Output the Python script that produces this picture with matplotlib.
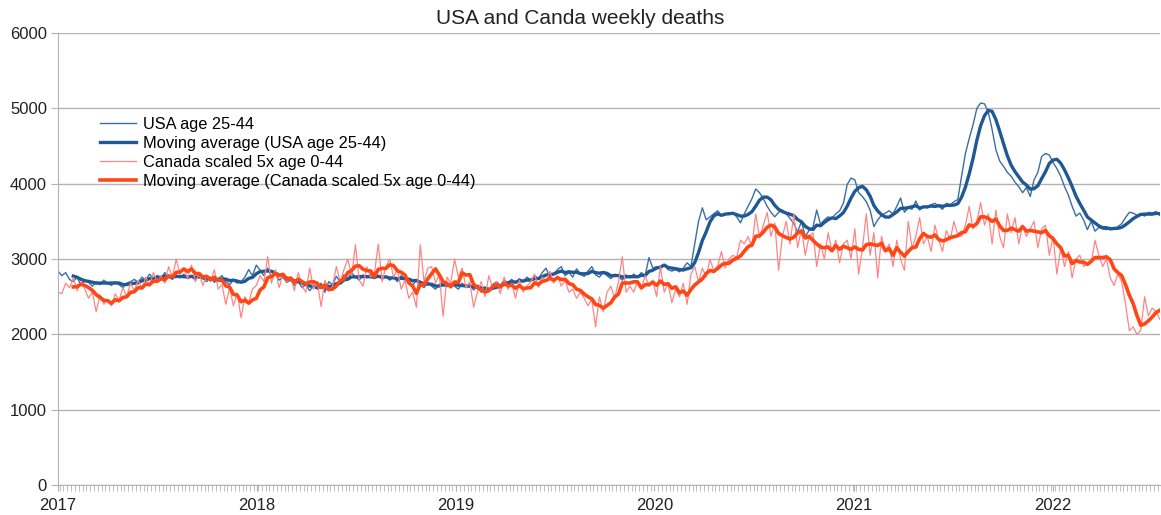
import pandas as pd
import matplotlib.pyplot as plt
import matplotlib.dates as mdates

plt.rcParams['font.family'] = ['Liberation Sans', 'DejaVu Sans']

# Weekly deaths (one list per year, 2022 partial)
usa_2017 = [2840, 2780, 2820, 2730, 2700, 2760, 2650, 2720, 2690, 2640,
            2700, 2660, 2720, 2680, 2650, 2700, 2660, 2620, 2680, 2700,
            2730, 2690, 2760, 2720, 2800, 2740, 2780, 2740, 2820, 2760,
            2730, 2790, 2750, 2800, 2740, 2770, 2720, 2790, 2740, 2700,
            2760, 2690, 2740, 2780, 2700, 2660, 2720, 2680, 2700, 2760,
            2860, 2780]
usa_2018 = [2920, 2850, 2780, 2880, 2760, 2800, 2720, 2760, 2690, 2720,
            2650, 2700, 2620, 2660, 2580, 2640, 2600, 2680, 2560, 2700,
            2660, 2770, 2700, 2790, 2740, 2820, 2760, 2720, 2790, 2750,
            2800, 2740, 2780, 2730, 2770, 2720, 2760, 2700, 2780, 2730,
            2700, 2650, 2720, 2660, 2620, 2690, 2640, 2600, 2660, 2700,
            2640, 2680]
usa_2019 = [2640, 2600, 2680, 2620, 2660, 2590, 2640, 2560, 2620, 2580,
            2660, 2700, 2650, 2720, 2690, 2730, 2680, 2740, 2700, 2760,
            2720, 2780, 2740, 2820, 2880, 2760, 2800, 2860, 2900, 2780,
            2820, 2760, 2870, 2800, 2770, 2840, 2900, 2790, 2760, 2820,
            2780, 2740, 2800, 2770, 2720, 2790, 2750, 2800, 2760, 2820,
            2780, 3020]
usa_2020 = [2880, 2900, 2880, 2920, 2860, 2840, 2860, 2830, 2880, 2950,
            2900, 3200, 3500, 3680, 3520, 3560, 3600, 3640, 3580, 3600,
            3590, 3620, 3560, 3480, 3600, 3700, 3800, 3930, 3880, 3800,
            3700, 3620, 3560, 3620, 3650, 3600, 3540, 3470, 3360, 3500,
            3300, 3380, 3420, 3650, 3460, 3520, 3560, 3540, 3600, 3640,
            3740, 3990]
usa_2021 = [4075, 4050, 3880, 3830, 3760, 3650, 3430, 3520, 3580, 3610,
            3640, 3600, 3700, 3810, 3620, 3680, 3660, 3770, 3650, 3700,
            3680, 3720, 3740, 3700, 3660, 3740, 3720, 3760, 3790, 4100,
            4400, 4600, 4780, 5000, 5070, 5060, 4950, 4720, 4450, 4300,
            4230, 4150, 4100, 4020, 3960, 3880, 3950, 3830, 4050, 4150,
            4360, 4400]
usa_2022 = [4380, 4280, 4200, 4100, 3960, 3850, 3700, 3570, 3610, 3520,
            3390, 3500, 3370, 3420, 3400, 3390, 3420, 3400, 3430, 3470,
            3550, 3620, 3610, 3580, 3600, 3570, 3620, 3610, 3630, 3580]

can_2017 = [2560, 2540, 2680, 2620, 2750, 2580, 2700, 2600, 2480, 2560,
            2300, 2520, 2400, 2460, 2380, 2540, 2450, 2620, 2500, 2680,
            2580, 2720, 2600, 2760, 2640, 2820, 2700, 2780, 2680, 2900,
            2760, 3000, 2800, 2880, 2740, 2920, 2700, 2800, 2650, 2780,
            2700, 2860, 2600, 2660, 2400, 2620, 2380, 2550, 2220, 2500,
            2420, 2600]
can_2018 = [2650, 2780, 2700, 3030, 2680, 2860, 2620, 2800, 2700, 2760,
            2580, 2820, 2640, 2560, 2880, 2600, 2700, 2370, 2720, 2580,
            2640, 2900, 2700, 2860, 3000, 2780, 3190, 2720, 2640, 2900,
            2760, 2820, 3200, 2700, 2900, 3000, 2760, 2860, 2600, 2720,
            2480, 2560, 2360, 3190, 2700, 2880, 2900, 2680, 2800, 2240,
            2760, 2680]
can_2019 = [3000, 2760, 2880, 2620, 2700, 2360, 2560, 2700, 2500, 2780,
            2620, 2700, 2540, 2760, 2600, 2680, 2480, 2720, 2560, 2640,
            2700, 2800, 2620, 2760, 2700, 2840, 2680, 2780, 2640, 2720,
            2560, 2600, 2480, 2560, 2480, 2380, 2460, 2100, 2500, 2300,
            2560, 2640, 2480, 2700, 3030, 2560, 2640, 2560, 2700, 2620,
            2780, 2640]
can_2020 = [2720, 2500, 2900, 2560, 2680, 2420, 2600, 2500, 2680, 2400,
            2800, 2900, 2700, 2880, 2760, 3000, 2840, 2900, 3100, 2880,
            3000, 3050, 3020, 3250, 3200, 3300, 3160, 3600, 3280, 3450,
            3620, 3300, 3480, 2850, 3300, 3500, 3200, 3600, 3150, 3400,
            3050, 3300, 3350, 2900, 3200, 3000, 3350, 3100, 3250, 2950,
            3200, 3250]
can_2021 = [3000, 3400, 2800, 3150, 3600, 3050, 3350, 2750, 3300, 3100,
            3200, 2900, 3250, 3000, 2850, 3500, 3150, 3300, 3550, 3200,
            3300, 3100, 3450, 3250, 3100, 3380, 3250, 3500, 3320, 3300,
            3450, 3700, 3400, 3500, 3750, 3450, 3600, 3200, 3650, 3300,
            3150, 3600, 3350, 3550, 3200, 3450, 3300, 3400, 3500, 3150,
            3400, 3450]
can_2022 = [3050, 3300, 2800, 3150, 2900, 3100, 2750, 3000, 3050, 2900,
            2950, 2950, 3250, 3050, 2900, 3000, 2750, 2650, 2800, 2700,
            2400, 2050, 2100, 2000, 2050, 2500, 2250, 2350, 2300, 2200]

usa = pd.Series(usa_2017 + usa_2018 + usa_2019 + usa_2020 + usa_2021 + usa_2022)
can = pd.Series(can_2017 + can_2018 + can_2019 + can_2020 + can_2021 + can_2022)
weeks = pd.date_range('2017-01-01', periods=len(usa), freq='7D')

# 5 week trailing moving average (like the spreadsheet trendline)
usa_ma = usa.rolling(5).mean()
can_ma = can.rolling(5).mean()

fig = plt.figure(figsize=(11.61, 5.15), dpi=100)
ax = fig.add_axes([0.05, 0.058, 0.949, 0.878])

ax.plot(weeks, usa, color='#3a6ea5', lw=1.0, label='USA age 25-44')
ax.plot(weeks, usa_ma, color='#1f5894', lw=2.4, label='Moving average (USA age 25-44)')
ax.plot(weeks, can, color='#ff8585', lw=0.9, label='Canada scaled 5x age 0-44')
ax.plot(weeks, can_ma, color='#ff4615', lw=2.6,
        label='Moving average (Canada scaled 5x age 0-44)')

# title is centred on the whole figure, not the plot area
fig.text(0.5, 0.965, 'USA and Canda weekly deaths', fontsize=15, color='#222222',
         ha='center', va='center')
ax.set_ylim(0, 6000)
ax.set_yticks(range(0, 6001, 1000))
ax.set_xlim(weeks[0], weeks[-1])
ax.xaxis.set_major_locator(mdates.YearLocator())
ax.xaxis.set_major_formatter(mdates.DateFormatter('%Y'))
ax.xaxis.set_minor_locator(mdates.DayLocator(interval=7))
ax.grid(axis='y', color='#b3b3b3', lw=1)
ax.set_axisbelow(True)

for s in ['top', 'right']:
    ax.spines[s].set_visible(False)
for s in ['left', 'bottom']:
    ax.spines[s].set_color('#b3b3b3')
ax.tick_params(axis='both', which='both', color='#b3b3b3', labelsize=12,
               labelcolor='#222222')
ax.tick_params(axis='x', which='both', length=4, direction='out', pad=5)
ax.tick_params(axis='y', length=5, pad=3)

ax.legend(loc='upper left', bbox_to_anchor=(0.032, 0.829), frameon=False,
          fontsize=11.8, handlelength=2.2, handletextpad=0.43, labelspacing=0.24,
          borderaxespad=0)

plt.savefig('out.png', dpi=100)
